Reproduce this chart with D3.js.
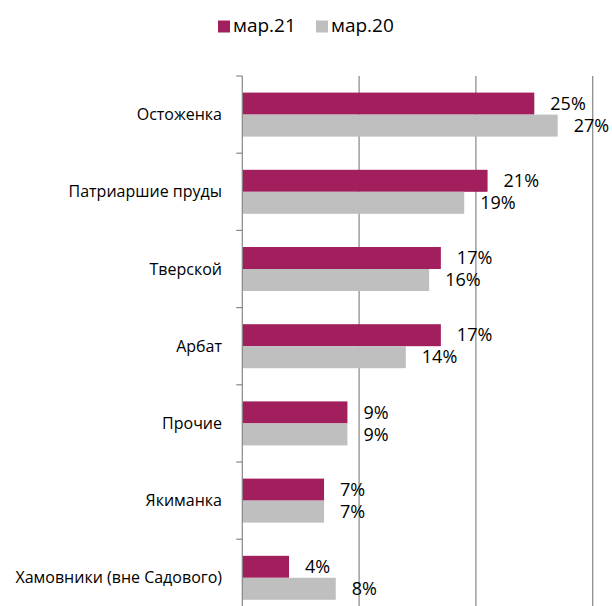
<!DOCTYPE html>
<html><head><meta charset="utf-8">
<script src="https://cdn.jsdelivr.net/npm/d3@7/dist/d3.min.js"></script>
<style>body{margin:0;background:#fff}svg{display:block}</style>
</head><body>
<div id="chart"></div>
<script>
const categories = ["Остоженка","Патриаршие пруды","Тверской","Арбат","Прочие","Якиманка","Хамовники (вне Садового)"];
const seriesNames = ["мар.21","мар.20"];
const values2021 = [25,21,17,17,9,7,4];
const values2020 = [27,19,16,14,9,7,8];
const xTicks = [10,20,30];
const colors = ["#A11F5D","#BFBFBF"];

const W=612,H=606;
const svg=d3.select("#chart").append("svg").attr("width",W).attr("height",H);
const font="'Open Sans', sans-serif";
const x=d3.scaleLinear().domain([0,30]).range([242.3,592.7]);
const y0=d3.scaleBand().domain(categories).range([76,76+7*77.2]).padding(0);
const y1=d3.scaleBand().domain(seriesNames).range([16.6,60.6]).padding(0);

// gridlines
svg.append("g").selectAll("line").data(xTicks).join("line")
  .attr("x1",d=>x(d)).attr("x2",d=>x(d)).attr("y1",76).attr("y2",H)
  .attr("stroke","#868686").attr("stroke-width",1.2);

const data=categories.map((c,i)=>({c,vals:[values2021[i],values2020[i]]}));
const g=svg.append("g").selectAll("g").data(data).join("g")
  .attr("transform",d=>`translate(0,${y0(d.c)})`);
g.selectAll("rect").data(d=>d.vals.map((v,j)=>({v,s:seriesNames[j],j}))).join("rect")
  .attr("x",x(0)).attr("y",d=>y1(d.s)).attr("width",d=>x(d.v)-x(0)).attr("height",y1.bandwidth())
  .attr("fill",d=>colors[d.j]);
g.selectAll("text.val").data(d=>d.vals.map((v,j)=>({v,s:seriesNames[j],j}))).join("text")
  .attr("class","val").attr("x",d=>x(d.v)+16).attr("y",d=>y1(d.s)+y1.bandwidth()/2)
  .attr("dy","0.35em").attr("font-family",font).attr("font-size",18).attr("fill","#000")
  .text(d=>d.v+"%");

// axis
const axis=d3.axisLeft(y0).tickSize(0).tickFormat("");
const ag=svg.append("g").attr("transform",`translate(${x(0)},0)`).call(axis);
ag.select(".domain").remove();
ag.append("line").attr("x1",0).attr("x2",0).attr("y1",76).attr("y2",H).attr("stroke","#868686").attr("stroke-width",1.2);
ag.selectAll(".bt").data(categories).join("line").attr("class","bt")
  .attr("x1",-6).attr("x2",0).attr("y1",d=>y0(d)).attr("y2",d=>y0(d)).attr("stroke","#868686").attr("stroke-width",1.2);
svg.append("g").selectAll("text").data(categories).join("text")
  .attr("x",222).attr("y",d=>y0(d)+y0.bandwidth()/2).attr("dy","0.35em")
  .attr("text-anchor","end").attr("font-family",font).attr("font-size",16).attr("fill","#000")
  .text(d=>d);

// legend
const lg=svg.append("g");
const lx=[218,316];
seriesNames.forEach((s,i)=>{
  lg.append("rect").attr("x",lx[i]).attr("y",20.5).attr("width",12).attr("height",12).attr("fill",colors[i]);
  lg.append("text").attr("x",lx[i]+15).attr("y",32).attr("font-family",font).attr("font-size",19).attr("fill","#000").text(s);
});
</script>
</body></html>
